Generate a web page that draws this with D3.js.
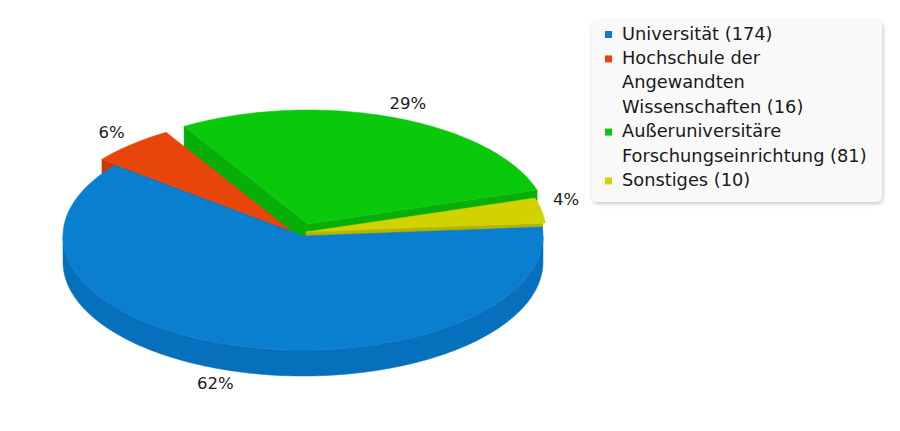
<!DOCTYPE html>
<html>
<head>
<meta charset="utf-8">
<script src="https://cdnjs.cloudflare.com/ajax/libs/d3/7.8.5/d3.min.js"></script>
<style>
  html, body { margin: 0; padding: 0; background: #fff; }
  svg { display: block; font-family: "DejaVu Sans", Verdana, sans-serif; }
</style>
</head>
<body>
<svg id="chart" width="900" height="431"></svg>
<script>
// ---- data ----
const categories = [
  ["Universität"],
  ["Hochschule der", "Angewandten", "Wissenschaften"],
  ["Außeruniversitäre", "Forschungseinrichtung"],
  ["Sonstiges"]
];
const values = [174, 16, 81, 10];

// ---- style ----
const topColors  = ["#0a7ecf", "#e8450a", "#0ac80a", "#d2d200"];
const sideColors = ["#0670bd", "#c93a05", "#08ae08", "#b4b400"];
// per-slice displacement of exploded slices (pixels)
const explode = [[0, 0], [-13, -6], [5, -12], [3, -4]];
// small label nudges (pixels)
const labelNudge = [[-9, -3], [0, 0], [4, 1], [-5, -8]];

const W = 900, H = 431;
const cx = 303, cy = 236, rx = 240, ry = 114, depth = 26;
const startScreenDeg = -4.5;

const svg = d3.select("#chart");
const total = d3.sum(values);

const pie = d3.pie().sort(null).value(d => d)
  .startAngle((startScreenDeg + 90) * Math.PI / 180)
  .endAngle((startScreenDeg + 90) * Math.PI / 180 + 2 * Math.PI);
const arcs = pie(values).map((a, i) => {
  const t0 = a.startAngle - Math.PI / 2, t1 = a.endAngle - Math.PI / 2;
  return { i, t0, t1, mid: (t0 + t1) / 2, value: a.value,
           dx: explode[i][0], dy: explode[i][1] };
});

const line = d3.line();
function pt(s, t, z) {
  return [cx + s.dx + rx * Math.cos(t), cy + s.dy + ry * Math.sin(t) + (z || 0)];
}
function arcPts(s, a0, a1, z) {
  const n = Math.max(2, Math.ceil(Math.abs(a1 - a0) / 0.02));
  return d3.range(n + 1).map(k => pt(s, a0 + (a1 - a0) * k / n, z));
}

// clip: silhouette of the whole (unexploded) cylinder plus the area above it
const defs = svg.append("defs");
const base = { dx: 0, dy: 0 };
const sil = arcPts(base, Math.PI, 0, -400).concat(arcPts(base, 0, Math.PI, depth));
defs.append("clipPath").attr("id", "cyl")
  .append("path").attr("d", line(sil) + "Z");

const gPie = svg.append("g");
const order = arcs.slice().sort((a, b) => Math.sin(a.mid) - Math.sin(b.mid));

order.forEach(s => {
  const g = gPie.append("g");
  const gw = g.append("g").attr("clip-path", "url(#cyl)");
  const apex = [cx + s.dx, cy + s.dy];
  const apexB = [apex[0], apex[1] + depth];
  // radial walls
  if (Math.cos(s.t0) < 0) {
    const p = pt(s, s.t0), pb = pt(s, s.t0, depth);
    gw.append("path").attr("d", line([apex, p, pb, apexB]) + "Z")
      .attr("fill", sideColors[s.i]).attr("stroke", sideColors[s.i]).attr("stroke-width", 0.5);
  }
  if (Math.cos(s.t1) > 0) {
    const p = pt(s, s.t1), pb = pt(s, s.t1, depth);
    gw.append("path").attr("d", line([apex, p, pb, apexB]) + "Z")
      .attr("fill", sideColors[s.i]).attr("stroke", sideColors[s.i]).attr("stroke-width", 0.5);
  }
  // outer wall (front half)
  [[0, Math.PI], [2 * Math.PI, 3 * Math.PI], [-2 * Math.PI, -Math.PI]].forEach(([lo, hi]) => {
    const a0 = Math.max(lo, s.t0), a1 = Math.min(hi, s.t1);
    if (a1 > a0) {
      const top = arcPts(s, a0, a1, 0);
      const bot = arcPts(s, a1, a0, depth);
      g.append("path").attr("d", line(top.concat(bot)) + "Z")
        .attr("fill", sideColors[s.i]).attr("stroke", sideColors[s.i]).attr("stroke-width", 0.5);
    }
  });
  // top face
  g.append("path").attr("d", line([apex].concat(arcPts(s, s.t0, s.t1, 0))) + "Z")
    .attr("fill", topColors[s.i]).attr("stroke", topColors[s.i]).attr("stroke-width", 0.5);
});

// percent labels
const lx = 30, ly = 16;
arcs.forEach(s => {
  const sn = Math.sin(s.mid);
  const x = cx + s.dx + (rx + lx) * Math.cos(s.mid) + labelNudge[s.i][0];
  const y = cy + s.dy + (ry + ly) * sn + (sn > 0 ? depth : 0) + labelNudge[s.i][1];
  svg.append("text")
    .attr("x", x).attr("y", y).attr("dy", "0.36em")
    .attr("text-anchor", "middle")
    .attr("font-size", 16.5).attr("fill", "#1a1a1a")
    .text(Math.round(s.value / total * 100) + "%");
});

// legend
const f = defs.append("filter").attr("id", "sh").attr("x", "-10%").attr("y", "-10%")
  .attr("width", "120%").attr("height", "125%");
f.append("feDropShadow").attr("dx", 1).attr("dy", 2).attr("stdDeviation", 2)
  .attr("flood-color", "#000").attr("flood-opacity", 0.22);

const lg = svg.append("g");
lg.append("rect").attr("x", 592).attr("y", 20).attr("width", 290).attr("height", 182)
  .attr("rx", 6).attr("fill", "#f9f9f9").attr("filter", "url(#sh)");

let lineIdx = 0;
const base0 = 39.5, lh = 24.4;
categories.forEach((lines, i) => {
  const b = base0 + lh * lineIdx;
  lg.append("rect").attr("x", 605).attr("y", b - 8.5).attr("width", 7).attr("height", 7)
    .attr("fill", topColors[i]);
  lines.forEach((t, k) => {
    const txt = k === lines.length - 1 ? `${t} (${values[i]})` : t;
    lg.append("text").attr("x", 622).attr("y", base0 + lh * lineIdx)
      .attr("font-size", 17.8).attr("fill", "#1a1a1a").text(txt);
    lineIdx++;
  });
});
</script>
</body>
</html>
